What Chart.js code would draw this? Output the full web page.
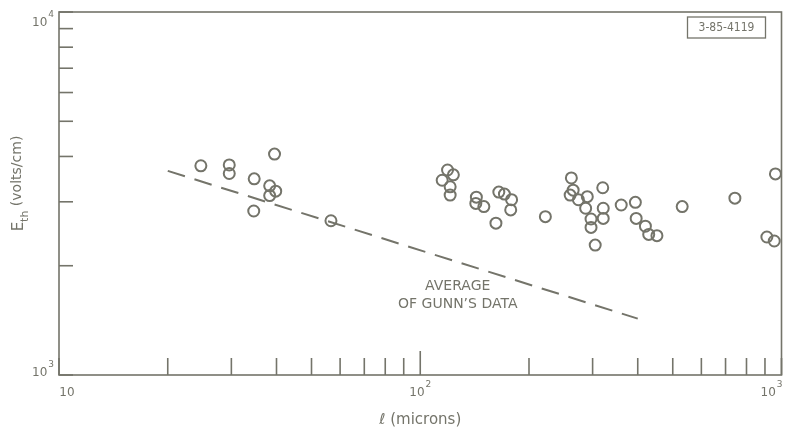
<html>
<head>
    <title>Threshold field vs sample length</title>
    <script src="https://cdn.jsdelivr.net/npm/chart.js"></script>
    <style>
        body { margin: 0; background: white; }
        #wrap { width: 789px; height: 434px; }
    </style>
</head>
<body>
    <div id="wrap"><canvas id="fieldChart"></canvas></div>
    <script>
        // measured points: length in microns, threshold field in volts/cm
        const lengthMicrons = [24.7, 29.6, 29.6, 39.5, 34.7, 38.3, 39.8, 38.3, 34.6, 56.6,
            119, 123.5, 115, 121, 121, 143, 142.5, 150, 165, 171, 179, 178, 162, 222,
            262, 265, 260, 274, 290, 287, 320, 321, 321, 297, 297, 305, 360, 394, 396,
            420, 429, 452, 531, 743, 962, 911, 955];
        const thresholdField = [3770, 3790, 3590, 4060, 3470, 3320, 3210, 3120, 2830, 2660,
            3670, 3560, 3440, 3300, 3130, 3090, 2970, 2910, 3190, 3150, 3040, 2850, 2620, 2730,
            3490, 3230, 3130, 3040, 3100, 2880, 3280, 2880, 2700, 2690, 2550, 2280, 2940, 2990, 2700,
            2570, 2440, 2420, 2910, 3070, 3580, 2400, 2340];

        // dashed line: average of Gunn's data
        const gunnLength = [20, 400];
        const gunnField = [3650, 1430];

        const xTickValues = [10, 20, 30, 40, 50, 60, 70, 80, 90, 100, 200, 300, 400, 500, 600, 700, 800, 900, 1000];
        const xLabelValues = [10, 100, 1000];
        const xLabelExp = ['', '2', '3'];
        const yTickValues = [1000, 2000, 3000, 4000, 5000, 6000, 7000, 8000, 9000, 10000];
        const yLabelValues = [1000, 10000];
        const yLabelExp = ['3', '4'];

        const noteLines = ['AVERAGE', 'OF GUNN\u2019S DATA'];
        const noteX = 127;
        const noteY = [1760, 1570];

        const ink = '#74746a';
        const fontFam = '"DejaVu Sans", sans-serif';

        // "10" with a small raised exponent
        function drawPower(c, exp, x, y, align) {
            c.font = '12px ' + fontFam;
            const w1 = c.measureText('10').width;
            c.font = '9px ' + fontFam;
            const w2 = exp ? c.measureText(exp).width + 1 : 0;
            let left = x - (w1 + w2) / 2;
            if (align === 'right') left = x - (w1 + w2);
            c.textAlign = 'left';
            c.textBaseline = 'middle';
            c.font = '12px ' + fontFam;
            c.fillText('10', left, y);
            if (exp) {
                c.font = '9px ' + fontFam;
                c.fillText(exp, left + w1 + 1, y - 8);
            }
        }

        const framePlugin = {
            id: 'frame',
            afterDatasetsDraw(chart) {
                const c = chart.ctx;
                const a = chart.chartArea;
                const xs = chart.scales.x;
                const ys = chart.scales.y;
                c.save();
                c.strokeStyle = ink;
                c.fillStyle = ink;
                c.lineWidth = 1.6;
                c.strokeRect(a.left, a.top, a.right - a.left, a.bottom - a.top);

                // inward tick marks
                xTickValues.forEach(v => {
                    const px = xs.getPixelForValue(v);
                    const len = (v === 100) ? 24 : 17;
                    c.beginPath();
                    c.moveTo(px, a.bottom);
                    c.lineTo(px, a.bottom - len);
                    c.stroke();
                });
                yTickValues.forEach(v => {
                    const py = ys.getPixelForValue(v);
                    c.beginPath();
                    c.moveTo(a.left, py);
                    c.lineTo(a.left + 14, py);
                    c.stroke();
                });

                // tick labels (first and last x label sit inside the ends)
                xLabelValues.forEach((v, i) => {
                    let px = xs.getPixelForValue(v);
                    if (i === 0) px += 8;
                    if (i === xLabelValues.length - 1) px -= 10;
                    drawPower(c, xLabelExp[i], px, a.bottom + 18, 'center');
                });
                yLabelValues.forEach((v, i) => {
                    let py = ys.getPixelForValue(v);
                    if (i === yLabelValues.length - 1) py += 11;
                    else py -= 2;
                    drawPower(c, yLabelExp[i], a.left - 5, py, 'right');
                });

                // y title: E_th (volts/cm)
                c.save();
                c.translate(19, (a.top + a.bottom) / 2 - 10);
                c.rotate(-Math.PI / 2);
                c.textBaseline = 'middle';
                c.textAlign = 'left';
                const main = ' (volts/cm)';
                c.font = '11px ' + fontFam;
                const wSub = c.measureText('th').width;
                c.font = '15px ' + fontFam;
                const wE = c.measureText('E').width;
                c.font = '14px ' + fontFam;
                const wMain = c.measureText(main).width;
                let sx = -(wE + wSub + wMain) / 2;
                c.font = '15px ' + fontFam;
                c.fillText('E', sx, 0);
                c.font = '11px ' + fontFam;
                c.fillText('th', sx + wE, 6);
                c.font = '14px ' + fontFam;
                c.fillText(main, sx + wE + wSub, -2);
                c.restore();

                // note text
                c.font = '14px ' + fontFam;
                c.textAlign = 'center';
                c.textBaseline = 'middle';
                noteLines.forEach((t, i) => {
                    c.fillText(t, xs.getPixelForValue(noteX), ys.getPixelForValue(noteY[i]));
                });

                // figure id box
                c.lineWidth = 1.3;
                c.strokeRect(a.right - 94, a.top + 5, 78, 21);
                c.font = '12px "DejaVu Sans Condensed", sans-serif';
                c.fillText('3-85-4119', a.right - 55, a.top + 16);
                c.restore();
            }
        };

        const ctx = document.getElementById('fieldChart').getContext('2d');
        new Chart(ctx, {
            type: 'scatter',
            data: {
                datasets: [{
                    label: 'measured',
                    data: lengthMicrons.map((l, i) => ({ x: l, y: thresholdField[i] })),
                    pointStyle: 'circle',
                    pointRadius: 5.5,
                    pointBorderWidth: 2,
                    pointBorderColor: ink,
                    pointBackgroundColor: 'rgba(0,0,0,0)',
                    showLine: false
                }, {
                    label: 'Average of Gunn\u2019s data',
                    type: 'line',
                    data: gunnLength.map((l, i) => ({ x: l, y: gunnField[i] })),
                    borderColor: ink,
                    borderWidth: 2,
                    borderDash: [18, 10],
                    pointRadius: 0,
                    fill: false
                }]
            },
            options: {
                responsive: true,
                maintainAspectRatio: false,
                animation: false,
                events: [],
                layout: { padding: { top: 12, right: 2, left: 0, bottom: 0 } },
                plugins: {
                    legend: { display: false },
                    tooltip: { enabled: false }
                },
                scales: {
                    x: {
                        type: 'logarithmic',
                        min: 10,
                        max: 1000,
                        grid: { display: false, drawTicks: false },
                        border: { display: false },
                        afterBuildTicks: s => { s.ticks = xTickValues.map(v => ({ value: v })); },
                        afterFit: s => { s.height = 59; s.paddingLeft = 0; s.paddingRight = 0; },
                        ticks: { display: false },
                        title: {
                            display: true,
                            text: 'ℓ (microns)',
                            color: ink,
                            font: { family: fontFam, size: 15 },
                            padding: { top: 0, bottom: 5 }
                        }
                    },
                    y: {
                        type: 'logarithmic',
                        min: 1000,
                        max: 10000,
                        grid: { display: false, drawTicks: false },
                        border: { display: false },
                        afterBuildTicks: s => { s.ticks = yTickValues.map(v => ({ value: v })); },
                        afterFit: s => { s.width = 59; s.paddingTop = 0; s.paddingBottom = 0; },
                        ticks: { display: false }
                    }
                }
            },
            plugins: [framePlugin]
        });
    </script>
</body>
</html>
